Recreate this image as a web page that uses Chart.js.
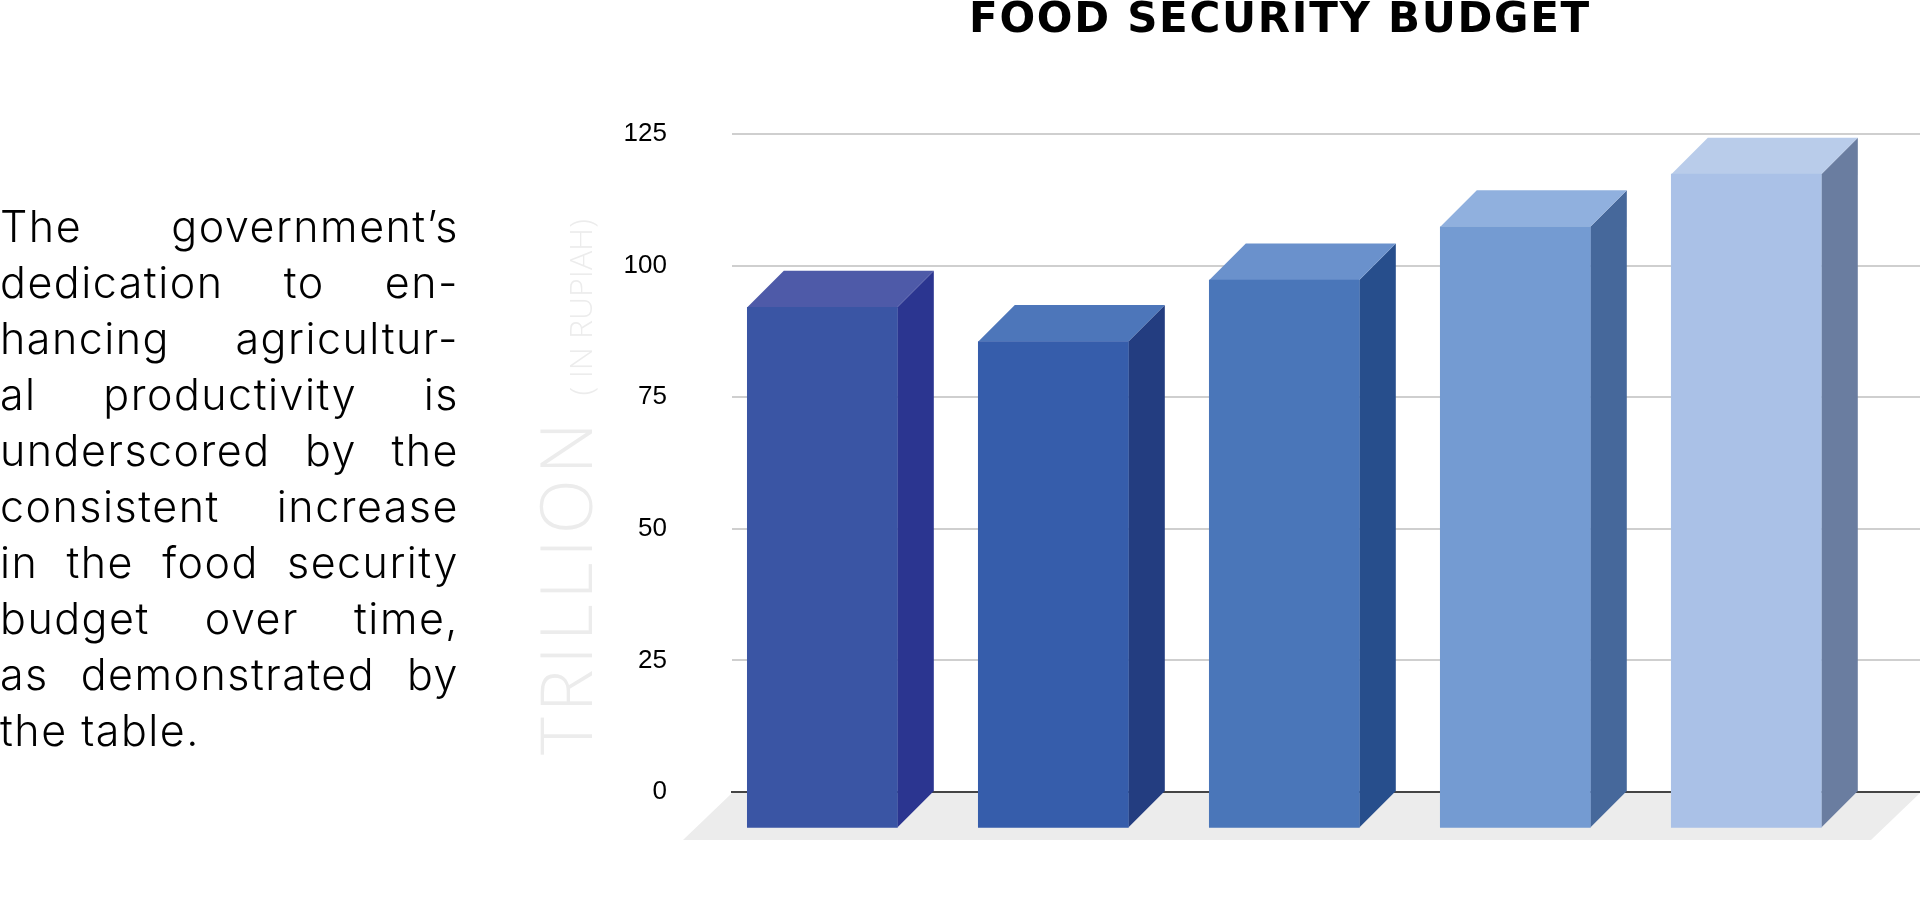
<!DOCTYPE html>
<html>
<head>
<meta charset="utf-8">
<title>Food Security Budget</title>
<script src="https://cdn.jsdelivr.net/npm/chart.js@4"></script>
<style>
    html, body { margin: 0; padding: 0; background: #fff; overflow: hidden; }
    #wrap { position: relative; width: 1920px; height: 903px; }
    canvas { position: absolute; left: 0; top: 0; }
    #title {
        position: absolute; left: 640px; width: 1280px; top: -12px;
        text-align: center; font: 700 42px/60px "DejaVu Sans", sans-serif; letter-spacing: 1.7px; color: #000; white-space: nowrap;
    }
    #blurb {
        position: absolute; left: 0; top: 198px; width: 459px;
        font: 300 43px/56px Inter, sans-serif; letter-spacing: 1.5px; color: #000;
    }
    #blurb div { text-align: justify; text-align-last: justify; white-space: nowrap; }
    #blurb div:last-child { text-align-last: left; }
    #unit {
        position: absolute; left: 529px; top: 755px; line-height: 70px;
        transform-origin: 0 0; transform: rotate(-90deg);
        font-family: "Open Sans", sans-serif; font-weight: 300; color: #ececec; white-space: nowrap;
    }
    #unit .big { font-size: 72px; letter-spacing: 5px; }
    #unit .small { font-size: 32px; margin-left: 22px; }
</style>
</head>
<body>
<div id="wrap">
    <canvas id="budget-chart" width="1920" height="903"></canvas>
    <div id="title">FOOD SECURITY BUDGET</div>
    <div id="blurb"></div>
    <div id="unit"><span class="big">TRILLION</span><span class="small">( IN RUPIAH)</span></div>
</div>
<script>
// Values (trillion rupiah), the bars have no visible labels
const categories = ['1', '2', '3', '4', '5'];
const budget = [99.0, 92.5, 104.2, 114.3, 124.3];
const yTicks = [0, 25, 50, 75, 100, 125];

const frontColors = ['#3a55a4', '#365dab', '#4a76b9', '#749bd2', '#aac1e7'];
const sideColors = ['#2b3590', '#233d80', '#274e8c', '#46689b', '#6a7da0'];
const topColors = ['#4e5aa8', '#4d76ba', '#6a91cc', '#90b0de', '#b9ccea'];

const blurbLines = [
    'The government\u2019s',
    'dedication to en-',
    'hancing agricultur-',
    'al productivity is',
    'underscored by the',
    'consistent increase',
    'in the food security',
    'budget over time,',
    'as demonstrated by',
    'the table.'
];

document.getElementById('blurb').innerHTML = blurbLines.map(l => '<div>' + l + '</div>').join('');

// Depth of the fake 3D look, in pixels
const depth = 36.5;

function fillPoly(ctx, points, color) {
    ctx.fillStyle = color;
    ctx.beginPath();
    points.forEach((p, i) => (i ? ctx.lineTo(p[0], p[1]) : ctx.moveTo(p[0], p[1])));
    ctx.closePath();
    ctx.fill();
}

// Draws floor, side and top faces, then shifts the real bars forward as the front face
const bars3d = {
    id: 'bars3d',
    beforeDatasetsDraw(chart) {
        const ctx = chart.ctx;
        const area = chart.chartArea;
        fillPoly(ctx, [
            [area.left, area.bottom + 1],
            [area.right, area.bottom + 1],
            [area.right - 49, area.bottom + 48],
            [area.left - 49, area.bottom + 48]
        ], '#ececec');
        chart.getDatasetMeta(0).data.forEach((bar, i) => {
            const left = bar.x - bar.width / 2;
            const right = bar.x + bar.width / 2;
            fillPoly(ctx, [
                [right - depth, bar.y + depth], [right, bar.y],
                [right, bar.base], [right - depth, bar.base + depth]
            ], sideColors[i]);
            fillPoly(ctx, [
                [left - depth, bar.y + depth], [left, bar.y],
                [right, bar.y], [right - depth, bar.y + depth]
            ], topColors[i]);
        });
    },
    beforeDatasetDraw(chart) {
        chart.ctx.save();
        chart.ctx.translate(-depth, depth);
    },
    afterDatasetDraw(chart) {
        chart.ctx.restore();
    }
};

new Chart(document.getElementById('budget-chart'), {
    type: 'bar',
    data: {
        datasets: [{
            label: 'Food security budget',
            data: categories.map((c, i) => ({ x: i + 1, y: budget[i] })),
            backgroundColor: frontColors,
            borderWidth: 0,
            barThickness: 150,
            clip: false
        }]
    },
    plugins: [bars3d],
    options: {
        responsive: false,
        animation: false,
        layout: { padding: { left: 620, top: 134, right: 0, bottom: 111 } },
        plugins: { legend: { display: false }, tooltip: { enabled: false } },
        scales: {
            x: {
                type: 'linear',
                offset: false,
                min: 0.451,
                max: 5.594,
                afterFit: scale => { scale.height = 0; },
                ticks: { display: false },
                grid: { display: false },
                border: { color: '#444444', width: 2 }
            },
            y: {
                min: 0,
                max: 125,
                afterBuildTicks: scale => { scale.ticks = yTicks.map(value => ({ value })); },
                afterFit: scale => { scale.width = 112; },
                ticks: {
                    padding: 65,
                    color: '#000',
                    font: { family: '"Liberation Sans", Arial, sans-serif', size: 26 }
                },
                grid: { color: '#cfcfcf', lineWidth: 2, drawTicks: false },
                border: { display: false }
            }
        }
    }
});
</script>
</body>
</html>
